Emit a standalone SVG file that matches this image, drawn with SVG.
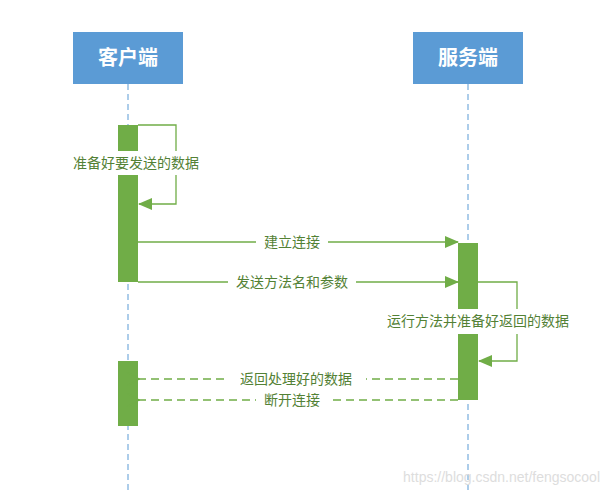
<svg xmlns="http://www.w3.org/2000/svg" width="610" height="494" viewBox="0 0 610 494">
<style>
.hd{fill:#5b9bd5}
.ht{font-family:"Noto Sans CJK SC",sans-serif;font-size:20px;font-weight:bold;fill:#fff;text-anchor:middle}
.ll{stroke:#5b9bd5;stroke-width:1;stroke-dasharray:6,4}
.act{fill:#70ad47}
.m{stroke:#70ad47;stroke-width:1.3;fill:none}
.d{stroke-dasharray:8,5}
.t{font-family:"Noto Sans CJK SC",sans-serif;font-size:14px;fill:#538135;text-anchor:middle}
.bg{fill:#fff}
</style>
<defs>
<marker id="f" markerWidth="14" markerHeight="12" refX="13" refY="6" orient="auto" markerUnits="userSpaceOnUse"><path d="M0,0L14,6L0,12z" fill="#70ad47"/></marker>
<marker id="o" markerWidth="14" markerHeight="14" refX="1" refY="7" orient="auto" markerUnits="userSpaceOnUse"><path d="M13,0L1,7L13,14" fill="none" stroke="#70ad47" stroke-width="1.3"/></marker>
</defs>
<rect width="610" height="494" fill="#fff"/>
<g id="client"><rect class="hd" x="73" y="32" width="110" height="52"/><text class="ht" x="128" y="65">客户端</text><line class="ll" x1="128" y1="84" x2="128" y2="494"/><rect class="act" x="118" y="125" width="20" height="157"/><rect class="act" x="118" y="361" width="20" height="65"/></g>
<g id="server"><rect class="hd" x="413" y="32" width="110" height="52"/><text class="ht" x="468" y="65">服务端</text><line class="ll" x1="468" y1="84" x2="468" y2="494"/><rect class="act" x="458" y="243" width="20" height="157"/></g>
<g id="connectors">
<path class="m" d="M138,125H176V204H139" marker-end="url(#f)"/>
<line class="m" x1="138" y1="242" x2="458" y2="242" marker-end="url(#f)"/>
<line class="m" x1="138" y1="282" x2="458" y2="282" marker-end="url(#f)"/>
<path class="m" d="M478,282H517V361H479" marker-end="url(#f)"/>
<line class="m d" x1="458" y1="379" x2="139" y2="379" marker-end="url(#o)"/>
<line class="m d" x1="458" y1="400" x2="139" y2="400" marker-end="url(#o)"/>
</g>
<g id="labels">
<rect class="bg" x="57" y="151" width="158" height="24"/><text class="t" x="136" y="168">准备好要发送的数据</text>
<rect class="bg" x="256" y="233" width="72" height="18"/><text class="t" x="292" y="247">建立连接</text>
<rect class="bg" x="228" y="273" width="128" height="18"/><text class="t" x="292" y="287">发送方法名和参数</text>
<rect class="bg" x="364" y="309" width="228" height="25"/><text class="t" x="478" y="326">运行方法并准备好返回的数据</text>
<rect class="bg" x="226" y="370" width="140" height="18"/><text class="t" x="296" y="384">返回处理好的数据</text>
<rect class="bg" x="256" y="391" width="72" height="18"/><text class="t" x="292" y="405">断开连接</text>
</g>
<text x="600" y="482" font-family="Liberation Sans,sans-serif" font-size="14" fill="#ddd" text-anchor="end">https://blog.csdn.net/fengsocool</text>
</svg>
